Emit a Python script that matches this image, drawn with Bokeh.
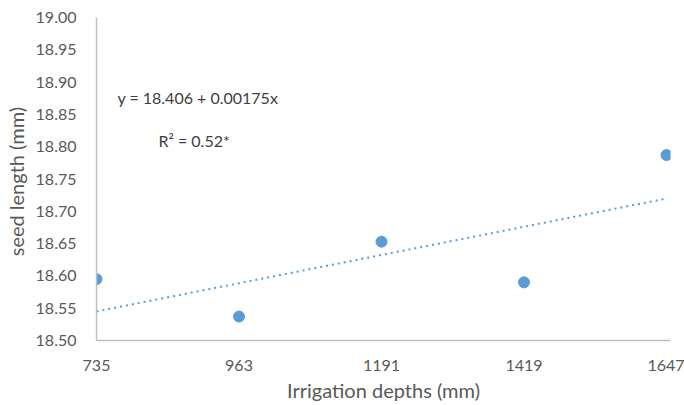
import numpy as np
from bokeh.plotting import figure
from bokeh.models import Range1d, FixedTicker, Label, ColumnDataSource
from bokeh.embed import file_html
from bokeh.resources import INLINE

# data
depth_labels = ["735", "963", "1191", "1419", "1647"]
seed_length = [18.595, 18.537, 18.653, 18.590, 18.787]
y_ticks = [18.50, 18.55, 18.60, 18.65, 18.70, 18.75, 18.80, 18.85, 18.90, 18.95, 19.00]
equation_text = "y = 18.406 + 0.00175x"
r2_text = "R² = 0.52*"

xi = np.arange(len(depth_labels), dtype=float)
slope, intercept = np.polyfit(xi, seed_length, 1)
trend = intercept + slope * xi

FONT = "Lato"
BLUE = "#5b9bd5"
GRAY_TXT = "#595959"

p = figure(width=684, height=405, output_backend="svg", toolbar_location=None,
           x_range=Range1d(0, 4.028), y_range=Range1d(18.5, 19.0),
           min_border_left=96, min_border_right=14, min_border_top=17, min_border_bottom=65)
p.outline_line_color = None
p.xgrid.grid_line_color = None
p.ygrid.grid_line_color = None

src = ColumnDataSource(dict(x=xi, y=seed_length, t=trend))
p.line("x", "t", source=src, line_color=BLUE, line_width=2, line_dash="2 4")
p.scatter("x", "y", source=src, size=11, fill_color=BLUE, line_color=BLUE)

p.xaxis.ticker = FixedTicker(ticks=list(xi))
p.xaxis.major_label_overrides = {float(i): lab for i, lab in enumerate(depth_labels)}
p.yaxis.ticker = FixedTicker(ticks=y_ticks)
p.yaxis.major_label_overrides = {t: f"{t:.2f}" for t in y_ticks}

for ax in (p.xaxis[0], p.yaxis[0]):
    ax.axis_line_color = "#bfbfbf"
    ax.axis_line_width = 1.5
    ax.major_tick_line_color = None
    ax.minor_tick_line_color = None
    ax.major_label_text_font = FONT
    ax.major_label_text_font_size = "16px"
    ax.major_label_text_color = GRAY_TXT
    ax.axis_label_text_font = FONT
    ax.axis_label_text_font_size = "20px"
    ax.axis_label_text_font_style = "normal"
    ax.axis_label_text_color = GRAY_TXT

p.xaxis.axis_label = "Irrigation depths (mm)"
p.yaxis.axis_label = "seed length  (mm)"
p.xaxis.major_label_standoff = 13
p.yaxis.major_label_standoff = 14
p.xaxis.axis_label_standoff = 4
p.yaxis.axis_label_standoff = 5

p.add_layout(Label(x=0.147, y=18.876, text=equation_text, text_font=FONT,
                   text_font_size="16px", text_color="#404040", text_baseline="middle"))
p.add_layout(Label(x=0.435, y=18.809, text=r2_text, text_font=FONT,
                   text_font_size="16px", text_color="#404040", text_baseline="middle"))

open("out.html", "w").write(file_html(p, INLINE))
